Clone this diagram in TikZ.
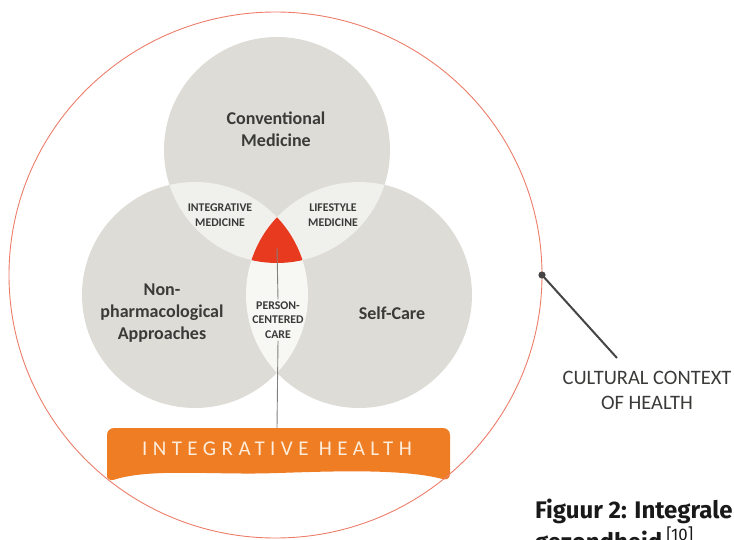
\documentclass[tikz,border=0pt]{standalone}
\usepackage{fontspec}
\setmainfont{Carlito}
\newfontfamily\capfont{Fira Sans}
\usetikzlibrary{shapes.geometric}

\definecolor{venngray}{RGB}{221,220,214}
\definecolor{lensgray}{RGB}{240,240,236}
\definecolor{lenswhite}{RGB}{247,247,244}
\definecolor{corered}{RGB}{232,58,30}
\definecolor{bannerorange}{RGB}{238,125,36}
\definecolor{bannertextcol}{RGB}{253,236,218}
\definecolor{ringred}{RGB}{236,125,105}
\definecolor{labelgray}{RGB}{58,58,56}
\definecolor{linegray}{RGB}{128,128,126}
\definecolor{pointergray}{RGB}{70,68,68}
\definecolor{captioncol}{RGB}{25,25,25}

\newcommand{\vennR}{113}

\tikzset{
  venn/.style={circle, fill=venngray, minimum size=226pt, inner sep=0pt, outer sep=0pt},
  biglabel/.style={align=center, text=labelgray, inner sep=1pt,
    font=\bfseries\fontsize{18}{22}\selectfont},
  smalllabel/.style={align=center, text=labelgray, inner sep=2pt,
    font=\bfseries\fontsize{11.8}{14.5}\selectfont},
  ctxlabel/.style={align=center, text=labelgray, inner sep=0pt,
    font=\fontsize{20.5}{25}\selectfont},
  bannertext/.style={text=bannertextcol, inner sep=0pt, minimum height=42pt,
    font=\addfontfeature{LetterSpace=26}\fontsize{21}{24}\selectfont},
  caption/.style={anchor=base west, text=captioncol, inner sep=0pt,
    font=\capfont\bfseries\fontsize{24}{28}\selectfont},
}

\begin{document}
\begin{tikzpicture}[x=1pt, y=-1pt]
\useasboundingbox (0,0) rectangle (734,540);
\clip (0,0) rectangle (734,540);

% the three overlapping areas of care
\node[venn] (conv)  at (277,150) {};
\node[venn] (nonph) at (195,295) {};
\node[venn] (self)  at (359,295) {};

% pairwise overlaps
\begin{scope}
  \clip (conv.center) circle[radius=\vennR];
  \fill[lensgray] (nonph.center) circle[radius=\vennR];
  \fill[lensgray] (self.center) circle[radius=\vennR];
\end{scope}
\begin{scope}
  \clip (nonph.center) circle[radius=\vennR];
  \fill[lenswhite] (self.center) circle[radius=\vennR];
\end{scope}
% common core of all three
\begin{scope}
  \clip (conv.center) circle[radius=\vennR];
  \clip (nonph.center) circle[radius=\vennR];
  \fill[corered] (self.center) circle[radius=\vennR];
\end{scope}
\coordinate (core) at (277,248);

% banner
\fill[bannerorange, rounded corners=7pt]
  (107,482) -- (107,428) -- (450,428) -- (450,481)
  .. controls (405,469) and (340,471) .. (278,473)
  .. controls (212,475) and (150,468) .. (107,482) -- cycle;
\node[bannertext] (ih) at (277,449) {INTEGRATIVE HEALTH};

% labels
\node[biglabel] (convtxt)  at (276,129) {Conventional\\Medicine};
\node[biglabel] (nonphtxt) at (162,313) {Non-\\pharmacological\\Approaches};
\node[biglabel] (selftxt)  at (392,313) {Self-Care};
\node[smalllabel] (imtxt)  at (220,215) {INTEGRATIVE\\MEDICINE};
\node[smalllabel] (lmtxt)  at (333,215) {LIFESTYLE\\MEDICINE};
\node[smalllabel] (pcctxt) at (278,320) {PERSON-\\CENTERED\\CARE};

% connector from the core to the banner
\draw[linegray, line width=0.9pt] (core) -- (pcctxt.north);
\draw[linegray, line width=0.9pt] (pcctxt.south) -- (ih.north);

% cultural context ring and its pointer
\node[ellipse, draw=ringred, line width=0.9pt, minimum width=533pt,
      minimum height=526pt, inner sep=0pt, outer sep=0pt] (ctx) at (275.5,275) {};
\coordinate (ptr) at (617,358);
\draw[pointergray, line width=2pt] (ctx.east) -- (ptr);
\fill[pointergray] (ctx.east) circle[radius=3.6];
\node[ctxlabel] (ctxtxt) at (647,390) {CULTURAL CONTEXT\\OF HEALTH};

% caption
\node[caption] (cap1) at (535,518) {Figuur 2: Integrale};
\node[caption] (cap2) at (535,550) {gezondheid\,\textsuperscript{\mdseries[10]}};
\end{tikzpicture}
\end{document}
